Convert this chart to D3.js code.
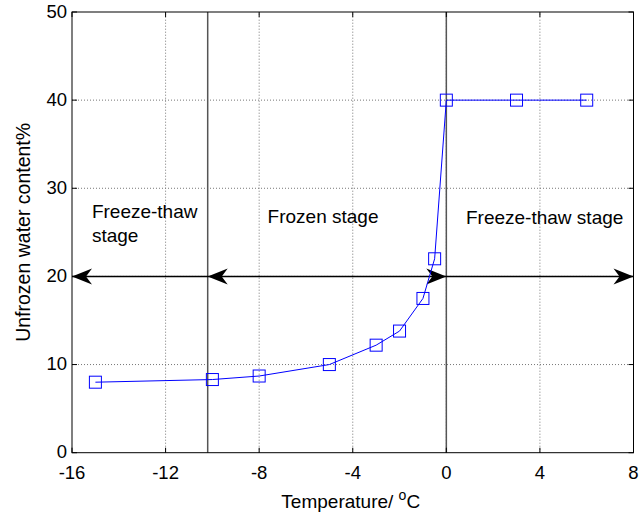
<!DOCTYPE html>
<html>
<head>
<meta charset="utf-8">
<script src="https://cdn.jsdelivr.net/npm/d3@7.9.0/dist/d3.min.js"></script>
<style>
  body { margin: 0; background: #fff; }
  text { font-family: "Liberation Sans", Arial, sans-serif; fill: #000; }
</style>
</head>
<body>
<svg id="chart" width="639" height="514"></svg>
<script>
// data
const temperature = [-15, -10, -8, -5, -3, -2, -1, -0.5, 0, 3, 6];
const waterContent = [8, 8.3, 8.7, 10, 12.2, 13.8, 17.5, 22, 40, 40, 40];

const xTicks = [-16, -12, -8, -4, 0, 4, 8];
const yTicks = [0, 10, 20, 30, 40, 50];

const stageBounds = [-10.2, 0];          // thick vertical separators
const arrowY = 20;
const arrowTips = [
  { x: -16, dir: -1 },
  { x: -10.2, dir: -1 },
  { x: 0, dir: 1 },
  { x: 8, dir: 1 }
];

const labels = [
  { x: -15.15, y: 26.6, lines: ["Freeze-thaw", "stage"] },
  { x: -7.64, y: 26.1, lines: ["Frozen stage"] },
  { x: 0.84, y: 25.95, lines: ["Freeze-thaw stage"] }
];

const svg = d3.select("#chart");
const margin = { left: 72, right: 639 - 633.5, top: 12, bottom: 514 - 452.7 };
const W = 639, H = 514;

const x = d3.scaleLinear().domain([-16, 8]).range([margin.left, W - margin.right]);
const y = d3.scaleLinear().domain([0, 50]).range([H - margin.bottom, margin.top]);

const fs = 18.5, fsText = 19;

// grid
const grid = svg.append("g");
grid.selectAll(".gx").data(xTicks.slice(1, -1)).enter().append("line")
  .attr("x1", d => x(d)).attr("x2", d => x(d))
  .attr("y1", y(0)).attr("y2", y(50))
  .attr("stroke", "#777").attr("stroke-width", 1).attr("stroke-dasharray", "1,2");
grid.selectAll(".gy").data(yTicks.slice(1, -1)).enter().append("line")
  .attr("y1", d => y(d)).attr("y2", d => y(d))
  .attr("x1", x(-16)).attr("x2", x(8))
  .attr("stroke", "#777").attr("stroke-width", 1).attr("stroke-dasharray", "1,2");

// stage separators
svg.selectAll(".sep").data(stageBounds).enter().append("line")
  .attr("x1", d => x(d)).attr("x2", d => x(d))
  .attr("y1", y(0)).attr("y2", y(50))
  .attr("stroke", "#555").attr("stroke-width", 1.5);

// axes box
svg.append("rect")
  .attr("x", x(-16)).attr("y", y(50))
  .attr("width", x(8) - x(-16)).attr("height", y(0) - y(50))
  .attr("fill", "none").attr("stroke", "#000").attr("stroke-width", 1);

// ticks (inside, MATLAB style)
const tk = 5;
const ticks = svg.append("g").attr("stroke", "#000").attr("stroke-width", 1);
xTicks.forEach(t => {
  ticks.append("line").attr("x1", x(t)).attr("x2", x(t)).attr("y1", y(0)).attr("y2", y(0) - tk);
  ticks.append("line").attr("x1", x(t)).attr("x2", x(t)).attr("y1", y(50)).attr("y2", y(50) + tk);
});
yTicks.forEach(t => {
  ticks.append("line").attr("y1", y(t)).attr("y2", y(t)).attr("x1", x(-16)).attr("x2", x(-16) + tk);
  ticks.append("line").attr("y1", y(t)).attr("y2", y(t)).attr("x1", x(8)).attr("x2", x(8) - tk);
});

// tick labels
svg.selectAll(".xl").data(xTicks).enter().append("text")
  .attr("x", d => x(d)).attr("y", y(0) + 26)
  .attr("text-anchor", "middle").attr("font-size", fs)
  .text(d => String(d));
svg.selectAll(".yl").data(yTicks).enter().append("text")
  .attr("x", x(-16) - 5).attr("y", d => y(d)).attr("dy", "0.3em")
  .attr("text-anchor", "end").attr("font-size", fs)
  .text(d => String(d));

// axis titles
const xt = svg.append("text")
  .attr("x", (x(-16) + x(8)) / 2 - 2).attr("y", 508)
  .attr("text-anchor", "middle").attr("font-size", fsText);
xt.append("tspan").text("Temperature/ ");
xt.append("tspan").attr("font-size", 14).attr("dy", -8).text("o");
xt.append("tspan").attr("dy", 8).text("C");

svg.append("text")
  .attr("transform", `translate(30,${(y(0) + y(50)) / 2}) rotate(-90)`)
  .attr("text-anchor", "middle").attr("font-size", 19.5)
  .text("Unfrozen water content%");

// horizontal arrow line
svg.append("line")
  .attr("x1", x(-16)).attr("x2", x(8))
  .attr("y1", y(arrowY)).attr("y2", y(arrowY))
  .attr("stroke", "#000").attr("stroke-width", 1.5);

const headLen = 20, headHalf = 8, notch = 14;
svg.selectAll(".head").data(arrowTips).enter().append("path")
  .attr("d", d => {
    const tx = x(d.x), ty = y(arrowY), s = -d.dir;
    return `M${tx},${ty} L${tx + s * headLen},${ty - headHalf} L${tx + s * notch},${ty} L${tx + s * headLen},${ty + headHalf} Z`;
  })
  .attr("fill", "#000");

// stage labels
labels.forEach(l => {
  const t = svg.append("text").attr("font-size", fsText);
  l.lines.forEach((s, i) => {
    t.append("tspan").attr("x", x(l.x)).attr("y", y(l.y) + i * 24).text(s);
  });
});

// data line
const line = d3.line().x((d, i) => x(temperature[i])).y(d => y(d));
svg.append("path")
  .attr("d", line(waterContent))
  .attr("fill", "none").attr("stroke", "#0000ff").attr("stroke-width", 1);

const ms = 12;
svg.selectAll(".mk").data(waterContent).enter().append("rect")
  .attr("x", (d, i) => x(temperature[i]) - ms / 2)
  .attr("y", d => y(d) - ms / 2)
  .attr("width", ms).attr("height", ms)
  .attr("fill", "none").attr("stroke", "#0000ff").attr("stroke-width", 1);
</script>
</body>
</html>
